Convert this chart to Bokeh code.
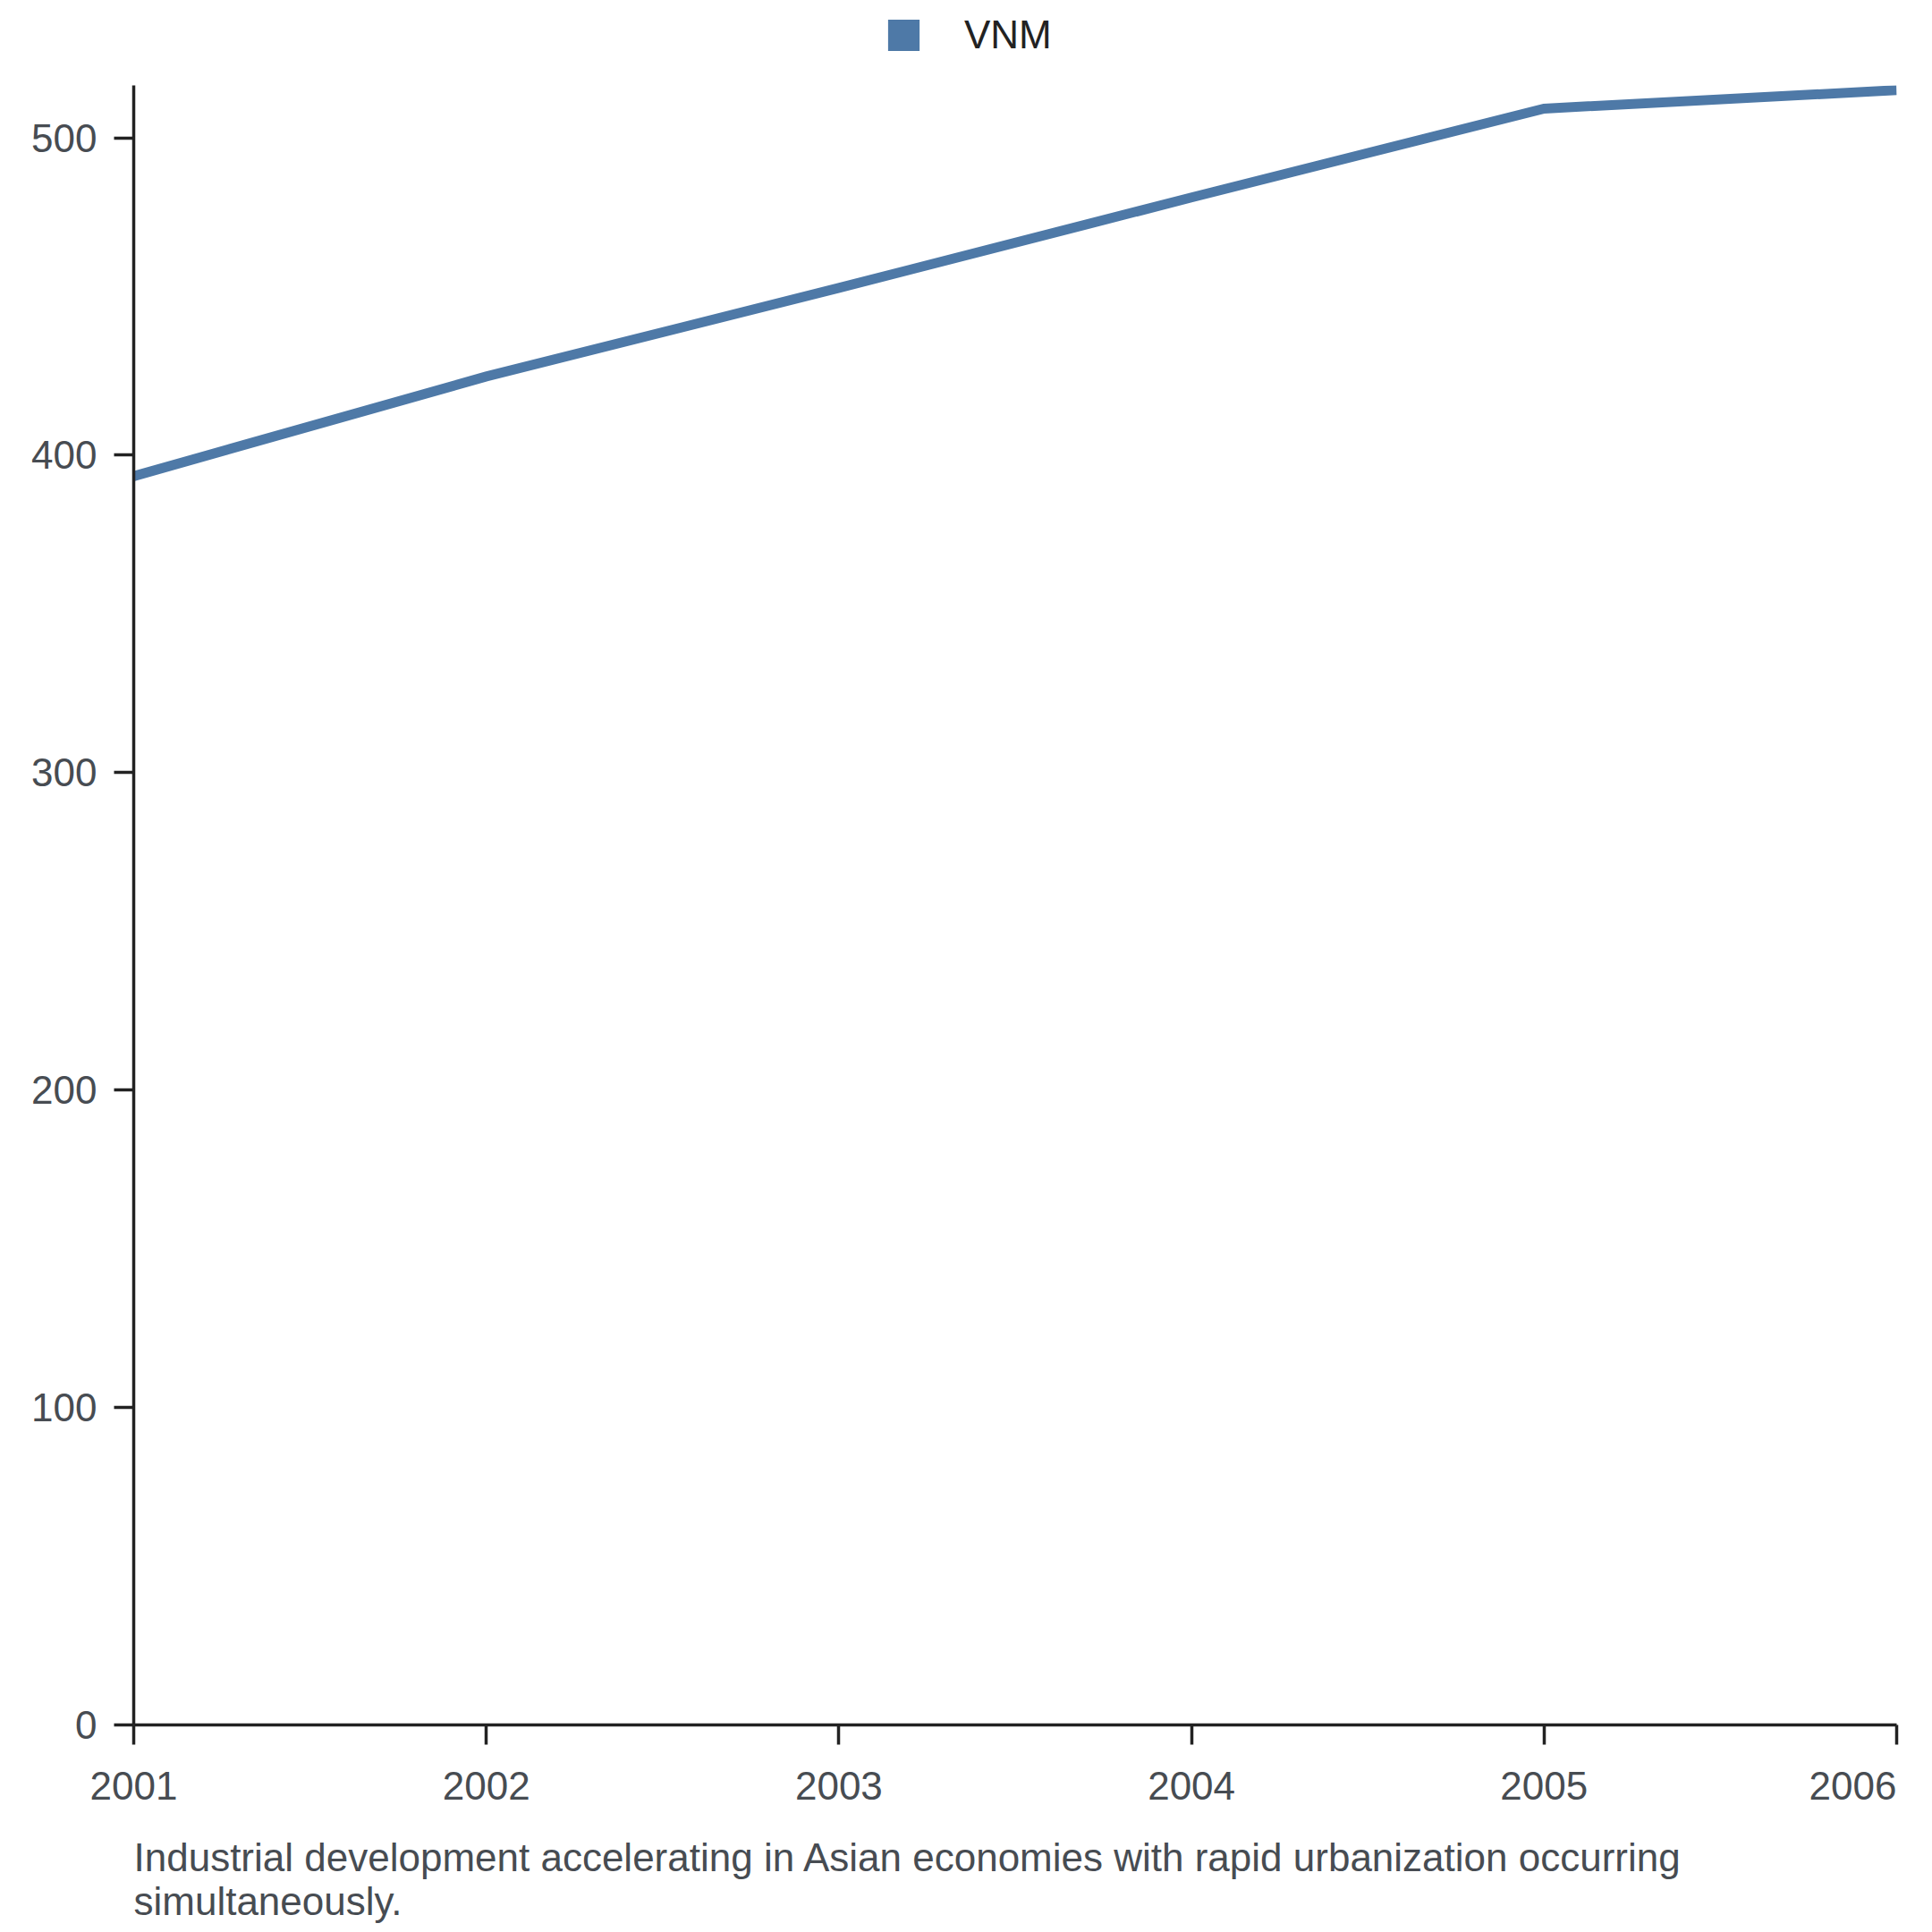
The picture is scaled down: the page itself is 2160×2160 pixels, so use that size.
from bokeh.plotting import figure
from bokeh.models import Range1d, FixedTicker, Legend, LegendItem, Title, LinearAxis
from bokeh.layouts import column
from bokeh.embed import file_html
from bokeh.resources import INLINE

# ---- data ----
years = [2001, 2002, 2003, 2004, 2005, 2006]
vnm = [393.4, 424.8, 452.7, 481.2, 509.2, 515.0]
y_ticks = [0, 100, 200, 300, 400, 500]
series_name = "VNM"
caption = ("Industrial development accelerating in Asian economies with rapid urbanization occurring\n"
           "simultaneously.")

# ---- style / layout ----
FONT = "Liberation Sans"
FS = "44px"
LINE_COLOR = "#4e79a7"
AXIS_COLOR = "#222222"
TICK_COLOR = "#474c52"
W = H = 2160
TOP_H = 95                     # legend strip height (= frame top on the page)
FRAME_L, FRAME_R, FRAME_B = 149, 2120, 1928
Y_END = 516.5                  # a little headroom so the thick line is not clipped
LAST_LABEL_SHIFT_PX = 49       # last x label kept inside the chart

# ---------------- legend strip ----------------
top = figure(width=W, height=TOP_H, output_backend="svg", toolbar_location=None,
             x_axis_location=None, y_axis_location=None, min_border=0,
             x_range=Range1d(years[0], years[-1]), y_range=Range1d(0, Y_END))
top.outline_line_color = None
top.xgrid.visible = False
top.ygrid.visible = False
proxy = top.varea(x=years, y1=vnm, y2=vnm, fill_color=LINE_COLOR)   # zero-height legend proxy
legend = Legend(items=[LegendItem(label=series_name, renderers=[proxy])],
                location=(839, 31), orientation="horizontal",
                glyph_width=44, glyph_height=44, label_standoff=46,
                padding=0, margin=0, spacing=0, border_line_color=None,
                background_fill_alpha=0,
                label_text_font=FONT, label_text_font_size=FS, label_text_color="#222222")
top.add_layout(legend, "center")

# ---------------- main chart ----------------
p = figure(width=W, height=H - TOP_H, output_backend="svg", toolbar_location=None,
           x_range=Range1d(years[0], years[-1]), y_range=Range1d(0, Y_END),
           min_border_left=FRAME_L, min_border_right=W - FRAME_R,
           min_border_top=0, min_border_bottom=H - FRAME_B)
p.outline_line_color = None
p.xgrid.visible = False
p.ygrid.visible = False
p.background_fill_color = "white"
p.border_fill_color = "white"

p.line(years, vnm, line_color=LINE_COLOR, line_width=11, line_cap="butt", line_join="miter")

def style_axis(ax):
    ax.axis_line_color = AXIS_COLOR
    ax.axis_line_width = 3.5
    ax.major_tick_line_color = AXIS_COLOR
    ax.major_tick_line_width = 3.5
    ax.major_tick_out = 22
    ax.major_tick_in = 0
    ax.minor_tick_out = 0
    ax.minor_tick_in = 0
    ax.major_label_text_font = FONT
    ax.major_label_text_font_size = FS
    ax.major_label_text_color = TICK_COLOR

xa = p.xaxis[0]
ya = p.yaxis[0]
style_axis(xa)
style_axis(ya)

# x axis: line + ticks only
xa.ticker = FixedTicker(ticks=years)
xa.major_label_overrides = {y: "" for y in years}
xa.major_label_text_font_size = "0px"
xa.major_label_standoff = 0

# y axis
ya.ticker = FixedTicker(ticks=y_ticks)
ya.major_label_standoff = 19

# x tick labels (last one shifted left so it stays inside the chart)
px_per_year = (FRAME_R - FRAME_L) / (years[-1] - years[0])
label_pos = years[:-1] + [years[-1] - LAST_LABEL_SHIFT_PX / px_per_year]
xl = LinearAxis(ticker=FixedTicker(ticks=label_pos),
                major_label_overrides={pos: str(y) for pos, y in zip(label_pos, years)},
                axis_line_color=None, major_tick_line_color=None, minor_tick_line_color=None,
                major_tick_out=0, major_tick_in=0, minor_tick_out=0, minor_tick_in=0,
                major_label_standoff=30, major_label_text_font=FONT,
                major_label_text_font_size=FS, major_label_text_color=TICK_COLOR)
p.add_layout(xl, "below")

# blank gap between tick labels and caption (white, so it is not seen)
gap = LinearAxis(ticker=FixedTicker(ticks=[years[0]]), axis_line_color=None,
                 major_tick_line_color="white", major_tick_line_width=1,
                 minor_tick_line_color=None,
                 major_tick_out=37, major_tick_in=0, minor_tick_out=0, minor_tick_in=0,
                 major_label_overrides={years[0]: ""}, major_label_text_font_size="0px",
                 major_label_standoff=0)
p.add_layout(gap, "below")

cap = Title(text=caption, align="left", vertical_align="top", offset=0, standoff=0,
            text_font=FONT, text_font_size=FS, text_font_style="normal",
            text_color=TICK_COLOR, text_line_height=1.0)
p.add_layout(cap, "below")

layout = column(top, p, spacing=0)
open("out.html", "w").write(file_html(layout, INLINE))
